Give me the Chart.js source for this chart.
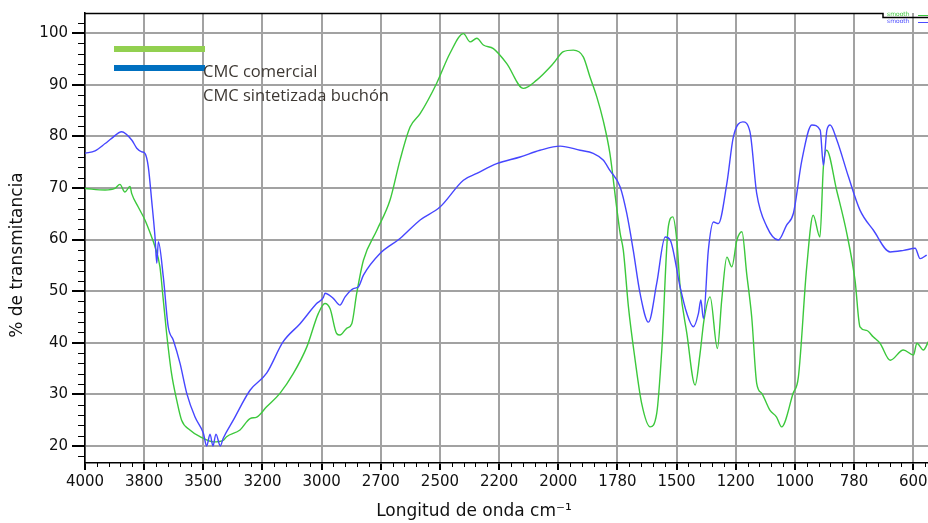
<!DOCTYPE html>
<html>
<head>
<meta charset="utf-8">
<script src="https://cdn.jsdelivr.net/npm/chart.js@4.4.1/dist/chart.umd.min.js"></script>
<style>
  html, body { margin: 0; padding: 0; background: #fff; }
  #wrap { width: 928px; height: 523px; }
</style>
</head>
<body>
<div id="wrap"><canvas id="chart" width="928" height="523"></canvas></div>
<script>
// tick labels of the x axis: evenly spaced on the plot, but not evenly valued
const tickLabels = [4000, 3800, 3500, 3200, 3000, 2700, 2500, 2200, 2000, 1780, 1500, 1200, 1000, 780, 600];
const yTicks = [20, 30, 40, 50, 60, 70, 80, 90, 100];

// CMC sintetizada buchón (blue)
const buchonNu = [4000,3966,3932,3910,3876,3842,3825,3808,3796,3779,3762,3745,3736,3728,3703,3678,3652,3618,3584,3542,
  3500,3483,3466,3451,3436,3414,3399,3348,3263,3186,3130,3073,3017,2991,2983,2941,2907,2881,2839,2814,
  2788,2704,2635,2567,2500,2381,2313,2212,2129,2062,1993,1919,1870,1833,1808,1767,1736,1705,1673,1633,
  1594,1554,1530,1482,1448,1415,1389,1377,1364,1339,1313,1288,1245,1212,1176,1152,1129,1095,1056,1028,
  1005,974,937,906,894,881,869,844,801,762,721,670,629,594,579,559];
const buchonT = [76.7,77.2,78.6,79.6,80.9,79.3,77.7,77.0,76.7,74.1,67.6,60.5,55.4,59.6,52.8,43.1,40.5,36.0,30.2,25.6,
  22.5,20.0,22.3,20.0,22.3,20.0,21.5,25.0,30.8,34.1,40.2,43.7,47.6,48.8,49.6,48.6,47.3,48.9,50.5,50.8,
  53.1,57.3,60.2,63.8,66.3,71.5,72.8,74.7,76.0,77.3,78.1,77.3,76.7,75.4,73.4,70.2,65.1,57.9,49.6,44.0,
  51.5,60.5,59.9,50.8,45.7,43.1,45.7,48.3,44.7,57.9,63.4,63.1,70.9,79.9,82.8,80.9,68.9,62.5,59.9,62.8,
  65.1,75.4,82.2,81.2,74.4,81.2,82.2,79.3,72.2,65.7,61.8,57.6,57.9,58.3,56.3,57.0];

// CMC comercial (green)
const comercialNu = [4000,3932,3899,3882,3865,3848,3842,3820,3796,3762,3745,3720,3703,3686,3661,3635,3610,3568,3517,3449,
  3399,3382,3314,3263,3229,3186,3141,3096,3050,3011,2983,2957,2924,2907,2873,2847,2822,2788,2720,2669,
  2635,2601,2567,2511,2449,2381,2347,2313,2280,2229,2174,2118,2073,2017,1981,1944,1907,1882,1857,1833,
  1808,1783,1767,1752,1728,1696,1665,1625,1594,1570,1539,1518,1499,1482,1448,1406,1381,1361,1330,1293,
  1271,1245,1220,1196,1179,1163,1146,1129,1112,1084,1062,1045,1006,987,956,932,907,894,882,845,
  807,777,762,742,721,701,670,630,599,589,569,554];
const comercialT = [69.9,69.6,69.9,70.7,69.2,70.3,68.9,66.3,63.8,60.5,58.6,54.7,48.3,41.8,34.0,28.9,25.0,23.1,21.8,20.8,
  21.1,21.8,23.1,25.3,25.6,27.6,30.2,34.0,39.2,45.7,47.6,46.6,41.8,41.5,42.8,43.7,49.6,56.0,61.8,67.6,
  75.4,81.8,84.4,90.3,96.1,99.9,98.3,99.0,97.7,97.0,94.1,89.3,90.9,94.1,96.4,96.7,95.4,91.5,87.7,83.1,
  76.7,66.3,61.2,57.9,47.0,36.6,28.2,23.7,26.3,38.6,62.5,64.4,59.9,50.8,41.8,31.8,37.9,44.4,48.9,38.9,
  48.3,56.6,54.7,59.9,61.5,53.4,45.0,32.1,30.2,26.9,25.6,23.7,30.2,33.4,54.7,64.7,60.5,74.1,77.3,69.6,
  61.2,52.1,43.1,42.4,41.1,39.9,36.6,38.6,37.6,39.9,38.6,40.2];

// wavenumber -> position on the axis (one unit per labelled tick)
function axisPos(nu) {
  for (let i = 0; i < tickLabels.length - 1; i++) {
    const a = tickLabels[i], b = tickLabels[i + 1];
    if (nu <= a && nu >= b) return i + (a - nu) / (a - b);
  }
  const n = tickLabels.length;
  return (n - 1) + (tickLabels[n - 1] - nu) / (tickLabels[n - 2] - tickLabels[n - 1]);
}

function toPoints(nu, t) {
  return nu.map((n, i) => ({ x: axisPos(n), y: t[i] }));
}

const decor = {
  id: 'decor',
  beforeDraw(chart) {
    const ctx = chart.ctx;
    ctx.save();
    ctx.fillStyle = '#fff';
    ctx.fillRect(0, 0, chart.width, chart.height);
    ctx.restore();
  },
  afterDraw(chart) {
    const { ctx, chartArea: a, scales: { x, y } } = chart;
    ctx.save();
    ctx.strokeStyle = '#000';
    ctx.lineWidth = 1;

    // minor ticks
    ctx.beginPath();
    for (let p = 0.2; p < x.max; p += 0.2) {
      if (Math.abs(p - Math.round(p)) < 0.01) continue;
      const px = Math.round(x.getPixelForValue(p)) + 0.5;
      ctx.moveTo(px, a.bottom);
      ctx.lineTo(px, a.bottom + 4);
    }
    for (let v = 18; v <= 102; v += 2) {
      if (v % 10 === 0) continue;
      const py = Math.round(y.getPixelForValue(v)) + 0.5;
      ctx.moveTo(a.left - 7, py);
      ctx.lineTo(a.left, py);
    }
    ctx.stroke();

    // top frame with the little step of the "smooth" box
    ctx.beginPath();
    ctx.lineWidth = 1.5;
    ctx.moveTo(a.left, a.top + 0.5);
    ctx.lineTo(883, a.top + 0.5);
    ctx.lineTo(883, a.top + 4.5);
    ctx.lineTo(a.right, a.top + 4.5);
    ctx.stroke();

    ctx.font = '6px "DejaVu Sans"';
    ctx.textBaseline = 'middle';
    ctx.fillStyle = '#3cc83c';
    ctx.fillText('smooth', 887, 14.5);
    ctx.fillRect(918, 15, 10, 1);
    ctx.fillStyle = '#4b4bff';
    ctx.fillText('smooth', 887, 21.5);
    ctx.fillRect(918, 22, 10, 1);

    // legend overlay
    ctx.fillStyle = '#92d050';
    ctx.fillRect(114, 46, 91, 6);
    ctx.fillStyle = '#0070c0';
    ctx.fillRect(114, 65, 91, 6);
    ctx.font = '16.5px "Open Sans"';
    ctx.fillStyle = '#3d3833';
    ctx.textAlign = 'left';
    ctx.fillText('CMC comercial', 203, 72);
    ctx.fillText('CMC sintetizada buchón', 203, 96);

    // axis titles
    ctx.fillStyle = '#111';
    ctx.font = '17px "DejaVu Sans"';
    ctx.textAlign = 'center';
    ctx.fillText('Longitud de onda cm⁻¹', 474, 512);
    ctx.translate(18, 255);
    ctx.rotate(-Math.PI / 2);
    ctx.fillText('% de transmitancia', 0, 0);
    ctx.restore();
  }
};

const gridGray = '#a2a2a2';

new Chart(document.getElementById('chart'), {
  type: 'line',
  data: {
    datasets: [
      {
        label: 'CMC sintetizada buchón',
        data: toPoints(buchonNu, buchonT),
        borderColor: '#4646ff',
        borderWidth: 1.4,
        pointRadius: 0,
        cubicInterpolationMode: 'monotone'
      },
      {
        label: 'CMC comercial',
        data: toPoints(comercialNu, comercialT),
        borderColor: '#3cc83c',
        borderWidth: 1.4,
        pointRadius: 0,
        cubicInterpolationMode: 'monotone'
      }
    ]
  },
  options: {
    responsive: false,
    animation: false,
    devicePixelRatio: 1,
    layout: { padding: { top: 13, right: 0, left: 0, bottom: 0 } },
    plugins: { legend: { display: false }, tooltip: { enabled: false } },
    scales: {
      x: {
        type: 'linear',
        min: 0,
        max: 14.25,
        afterBuildTicks: s => { s.ticks = tickLabels.map((_, i) => ({ value: i })); },
        afterFit: s => { s.height = 60; s.paddingLeft = 0; s.paddingRight = 0; },
        ticks: {
          autoSkip: false,
          maxRotation: 0,
          padding: 3,
          color: '#111',
          font: { family: 'DejaVu Sans', size: 15 },
          callback: v => tickLabels[v]
        },
        grid: { color: gridGray, lineWidth: 2, tickColor: '#000', tickLength: 7 },
        border: { color: '#000', width: 1.5 }
      },
      y: {
        min: 16.7,
        max: 103.9,
        afterBuildTicks: s => { s.ticks = yTicks.map(v => ({ value: v })); },
        afterFit: s => { s.width = 85; s.paddingTop = 0; s.paddingBottom = 0; },
        ticks: {
          padding: 4,
          color: '#111',
          font: { family: 'DejaVu Sans', size: 15 }
        },
        grid: { color: gridGray, lineWidth: 2, tickColor: '#000', tickLength: 13 },
        border: { color: '#000', width: 1.5 }
      }
    }
  },
  plugins: [decor]
});
</script>
</body>
</html>
